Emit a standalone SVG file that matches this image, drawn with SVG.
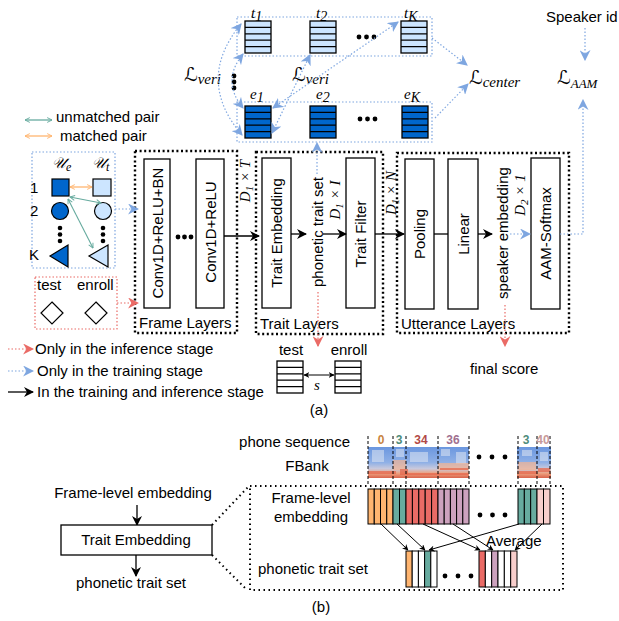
<svg xmlns="http://www.w3.org/2000/svg" width="619" height="621" viewBox="0 0 619 621">
<style>
text{font-family:"Liberation Sans",Arial,sans-serif;font-size:15px;fill:#000}
.m{font-family:"Liberation Serif","DejaVu Serif",serif;font-style:italic}
.L{font-family:"DejaVu Serif","DejaVu Sans",serif;font-size:19px}
.box{fill:#fff;stroke:#000;stroke-width:1.3}
.grp{fill:none;stroke:#000;stroke-width:2.4;stroke-dasharray:2 2.6}
.bd{fill:none;stroke:#7EA6E0;stroke-width:1.2;stroke-dasharray:1.5 2}
.rd{fill:none;stroke:#EA6B66;stroke-width:1.2;stroke-dasharray:1.5 2}
.blk{fill:none;stroke:#000;stroke-width:1.3}
.thin{fill:none;stroke:#000;stroke-width:1}
.dash{fill:none;stroke:#000;stroke-width:1;stroke-dasharray:3 2}
.dot{fill:none;stroke:#000;stroke-width:2;stroke-dasharray:1.5 3.5}
.sl{fill:#CCE5FF;stroke:#000;stroke-width:1.3}
.sd{fill:#0066CC;stroke:#000;stroke-width:1.3}
.sw{fill:#fff;stroke:#000;stroke-width:1.3}
.ln{stroke:#000;stroke-width:1.3}
.num{font-size:12px;font-weight:bold}
.or{fill:#FFB570}.gr{fill:#67AB9F}.re{fill:#EA6B66}.pu{fill:#CDA2BE}.pk{fill:#F8CECC}.wh{fill:#fff}
.bar rect{stroke:#000;stroke-width:1}
.lp{fill:#dfe6f2;opacity:0.55}
.hot{fill:#e5684d;opacity:0.75}
.warm{fill:#f2b493;opacity:0.7}
</style>
<defs>
<marker id="ab" viewBox="0 0 10 10" refX="9" refY="5" markerWidth="10" markerHeight="10" markerUnits="userSpaceOnUse" orient="auto-start-reverse"><path d="M0,0 L10,5 L0,10 L3,5z" fill="#000"/></marker>
<marker id="abs" viewBox="0 0 10 10" refX="9" refY="5" markerWidth="6" markerHeight="6" markerUnits="userSpaceOnUse" orient="auto-start-reverse"><path d="M0,0 L10,5 L0,10 L3,5z" fill="#000"/></marker>
<marker id="abl" viewBox="0 0 10 10" refX="9" refY="5" markerWidth="11" markerHeight="11" markerUnits="userSpaceOnUse" orient="auto-start-reverse"><path d="M0,0 L10,5 L0,10 L3,5z" fill="#7EA6E0"/></marker>
<marker id="ared" viewBox="0 0 10 10" refX="9" refY="5" markerWidth="11" markerHeight="11" markerUnits="userSpaceOnUse" orient="auto-start-reverse"><path d="M0,0 L10,5 L0,10 L3,5z" fill="#EA6B66"/></marker>
<marker id="agr" viewBox="0 0 10 10" refX="9" refY="5" markerWidth="6" markerHeight="6" markerUnits="userSpaceOnUse" orient="auto-start-reverse"><path d="M1,1 L9,5 L1,9" fill="none" stroke="#67AB9F" stroke-width="1.6"/></marker>
<marker id="aor" viewBox="0 0 10 10" refX="9" refY="5" markerWidth="6" markerHeight="6" markerUnits="userSpaceOnUse" orient="auto-start-reverse"><path d="M1,1 L9,5 L1,9" fill="none" stroke="#FFB570" stroke-width="1.6"/></marker>
<linearGradient id="spec" x1="0" y1="0" x2="0" y2="1">
<stop offset="0" stop-color="#6b97df"/><stop offset="0.5" stop-color="#8fb0e6"/><stop offset="0.7" stop-color="#c9c9dc"/><stop offset="0.85" stop-color="#eda07e"/><stop offset="1" stop-color="#d9634b"/>
</linearGradient>
</defs>

<!-- top: stacks -->
<g id="t-row">
<rect class="bd" x="237" y="17" width="195" height="39"/>
<g id="t1"><rect class="sl" x="245" y="21" width="26" height="32"/><path class="ln" d="M245,27.4H271M245,33.8H271M245,40.2H271M245,46.6H271"/></g>
<g id="t2"><rect class="sl" x="310" y="21" width="26" height="32"/><path class="ln" d="M310,27.4H336M310,33.8H336M310,40.2H336M310,46.6H336"/></g>
<g id="tK"><rect class="sl" x="401" y="21" width="26" height="32"/><path class="ln" d="M401,27.4H427M401,33.8H427M401,40.2H427M401,46.6H427"/></g>
<circle cx="359" cy="37" r="2.4"/><circle cx="366.5" cy="37" r="2.4"/><circle cx="374" cy="37" r="2.4"/>
<text class="m" x="251" y="18" font-size="22">t<tspan font-size="14" dy="3">1</tspan></text>
<text class="m" x="316" y="18" font-size="22">t<tspan font-size="14" dy="3">2</tspan></text>
<text class="m" x="404" y="18" font-size="22">t<tspan font-size="14" dy="3">K</tspan></text>
</g>
<g id="e-row">
<rect class="bd" x="237" y="102" width="195" height="40"/>
<g id="e1"><rect class="sd" x="245" y="106" width="26" height="32"/><path class="ln" d="M245,112.4H271M245,118.8H271M245,125.2H271M245,131.6H271"/></g>
<g id="e2"><rect class="sd" x="310" y="106" width="26" height="32"/><path class="ln" d="M310,112.4H336M310,118.8H336M310,125.2H336M310,131.6H336"/></g>
<g id="eK"><rect class="sd" x="402" y="106" width="26" height="32"/><path class="ln" d="M402,112.4H428M402,118.8H428M402,125.2H428M402,131.6H428"/></g>
<circle cx="360" cy="119" r="2.4"/><circle cx="367.5" cy="119" r="2.4"/><circle cx="375" cy="119" r="2.4"/>
<text class="m" x="250" y="99" font-size="22">e<tspan font-size="14" dy="3">1</tspan></text>
<text class="m" x="316" y="99" font-size="22">e<tspan font-size="14" dy="3">2</tspan></text>
<text class="m" x="404" y="99" font-size="22">e<tspan font-size="14" dy="3">K</tspan></text>
</g>
<circle cx="234" cy="76" r="2.4"/><circle cx="234" cy="82" r="2.4"/><circle cx="234" cy="88" r="2.4"/>
<g id="losses">
<text x="184" y="81"><tspan class="L">ℒ</tspan><tspan class="m" font-size="15" dy="3">veri</tspan></text>
<text x="292" y="81"><tspan class="L">ℒ</tspan><tspan class="m" font-size="15" dy="3">veri</tspan></text>
<text x="469" y="84"><tspan class="L">ℒ</tspan><tspan class="m" font-size="15" dy="3">center</tspan></text>
<text x="557" y="84"><tspan class="L">ℒ</tspan><tspan class="m" font-size="13" dy="4">AAM</tspan></text>
<text x="546" y="22">Speaker id</text>
</g>

<!-- left legend -->
<g id="pair-legend">
<path d="M25,120H52" stroke="#67AB9F" stroke-width="1.3" marker-start="url(#agr)" marker-end="url(#agr)"/>
<text x="56" y="122">unmatched pair</text>
<path d="M25,136H52" stroke="#FFB570" stroke-width="1.3" marker-start="url(#aor)" marker-end="url(#aor)"/>
<text x="60" y="141">matched pair</text>
</g>

<g id="speaker-sets">
<rect class="bd" x="32" y="152" width="83" height="116"/>
<text x="52" y="168" class="m" font-size="17">𝒰<tspan font-size="12" dy="3">e</tspan></text>
<text x="92" y="168" class="m" font-size="17">𝒰<tspan font-size="12" dy="3">t</tspan></text>
<text x="30" y="193">1</text><text x="30" y="216">2</text><text x="29" y="260">K</text>
<rect x="52" y="179" width="17" height="17" fill="#0066CC" stroke="#000" stroke-width="1.2"/>
<rect x="93" y="179" width="18" height="17" fill="#CCE5FF" stroke="#000" stroke-width="1.2"/>
<circle cx="60" cy="211" r="8.5" fill="#0066CC" stroke="#000" stroke-width="1.2"/>
<circle cx="103" cy="211" r="8.5" fill="#CCE5FF" stroke="#000" stroke-width="1.2"/>
<circle cx="60" cy="228" r="2.3"/><circle cx="60" cy="234.5" r="2.3"/><circle cx="60" cy="241" r="2.3"/>
<circle cx="103" cy="228" r="2.3"/><circle cx="103" cy="234.5" r="2.3"/><circle cx="103" cy="241" r="2.3"/>
<path d="M50,256L68,245V267z" fill="#0066CC" stroke="#000" stroke-width="1.2"/>
<path d="M89,256L108,245V267z" fill="#CCE5FF" stroke="#000" stroke-width="1.2"/>
<path d="M70,187H92" stroke="#FFB570" stroke-width="1.3" marker-start="url(#aor)" marker-end="url(#aor)"/>
<path d="M70,197L101,203" stroke="#67AB9F" stroke-width="1.1" marker-start="url(#agr)" marker-end="url(#agr)"/>
<path d="M68,199L93,248" stroke="#67AB9F" stroke-width="1.1" marker-start="url(#agr)" marker-end="url(#agr)"/>
</g>
<g id="test-enroll-in">
<rect class="rd" x="35" y="277" width="82" height="52"/>
<text x="37" y="290">test</text><text x="77" y="290">enroll</text>
<path d="M52,302L63,313L52,324L41,313z" fill="#fff" stroke="#000" stroke-width="1.2"/>
<path d="M96,302L107,313L96,324L85,313z" fill="#fff" stroke="#000" stroke-width="1.2"/>
</g>

<!-- Frame layers -->
<g id="frame-layers">
<rect class="grp" x="135" y="151" width="102" height="182"/>
<rect class="box" x="144" y="159" width="26" height="149"/>
<text transform="rotate(-90 157 233)" x="157" y="238.5" text-anchor="middle">Conv1D+ReLU+BN</text>
<rect class="box" x="196" y="159" width="28" height="149"/>
<text transform="rotate(-90 210 232)" x="210" y="237.5" text-anchor="middle">Conv1D+ReLU</text>
<circle cx="178" cy="237" r="2.4"/><circle cx="184.5" cy="237" r="2.4"/><circle cx="191" cy="237" r="2.4"/>
<text x="139" y="328">Frame Layers</text>
</g>
<g id="trait-layers">
<rect class="grp" x="256" y="152" width="127" height="182"/>
<rect class="box" x="262" y="158" width="29" height="150"/>
<text transform="rotate(-90 276.5 233)" x="276.5" y="238.5" text-anchor="middle">Trait Embedding</text>
<text transform="rotate(-90 317 232)" x="317" y="237.5" text-anchor="middle">phonetic trait set</text>
<rect class="box" x="346" y="158" width="29" height="150"/>
<text transform="rotate(-90 360.5 234)" x="360.5" y="239.5" text-anchor="middle">Trait Filter</text>
<text x="260" y="329">Trait Layers</text>
</g>
<g id="utterance-layers">
<rect class="grp" x="397" y="153" width="172" height="180"/>
<rect class="box" x="405" y="159" width="29" height="150"/>
<text transform="rotate(-90 419.5 234)" x="419.5" y="239.5" text-anchor="middle">Pooling</text>
<rect class="box" x="448" y="159" width="30" height="150"/>
<text transform="rotate(-90 463 234)" x="463" y="239.5" text-anchor="middle">Linear</text>
<text transform="rotate(-90 502 233)" x="502" y="238.5" text-anchor="middle">speaker embedding</text>
<rect class="box" x="531" y="158" width="29" height="151"/>
<text transform="rotate(-90 545.5 233.5)" x="545.5" y="239" text-anchor="middle">AAM-Softmax</text>
<text x="401" y="329">Utterance Layers</text>
</g>
<g id="dims">
<text class="m" font-size="16" transform="rotate(-90 245 181)" x="245" y="186" text-anchor="middle">D<tspan font-size="11" dy="3">1</tspan><tspan dy="-3"> × T</tspan></text>
<text class="m" font-size="16" transform="rotate(-90 335 200)" x="335" y="205" text-anchor="middle">D<tspan font-size="11" dy="3">1</tspan><tspan dy="-3"> × I</tspan></text>
<text class="m" font-size="16" transform="rotate(-90 391 193)" x="391" y="198" text-anchor="middle">D<tspan font-size="11" dy="3">1</tspan><tspan dy="-3"> × N</tspan></text>
<text class="m" font-size="16" transform="rotate(-90 520 195)" x="520" y="200" text-anchor="middle">D<tspan font-size="11" dy="3">2</tspan><tspan dy="-3"> × 1</tspan></text>
</g>

<!-- bottom of (a) -->
<g id="score">
<text x="291" y="355" text-anchor="middle">test</text>
<text x="349" y="355" text-anchor="middle">enroll</text>
<rect class="sw" x="277" y="361" width="26" height="32"/><path class="ln" d="M277,367.4H303M277,373.8H303M277,380.2H303M277,386.6H303"/>
<rect class="sw" x="335" y="361" width="26" height="32"/><path class="ln" d="M335,367.4H361M335,373.8H361M335,380.2H361M335,386.6H361"/>
<text class="m" x="314" y="390" font-size="17">s</text>
<text x="470" y="374">final score</text>
<text x="319" y="415" text-anchor="middle">(a)</text>
</g>
<g id="stage-legend">
<path class="rd" d="M8,349H33" marker-end="url(#ared)"/>
<text x="35" y="354">Only in the inference stage</text>
<path class="bd" d="M8,371H33" marker-end="url(#abl)"/>
<text x="37" y="376">Only in the training stage</text>
<path class="blk" d="M8,392H33" marker-end="url(#ab)"/>
<text x="37" y="397">In the training and inference stage</text>
</g>

<!-- connectors (a) -->
<g id="connectors">
<path class="bd" d="M241,24Q195,80 242,135" marker-start="url(#abl)" marker-end="url(#abl)"/>
<path class="bd" d="M243,54Q221,81 243,108" marker-start="url(#abl)" marker-end="url(#abl)"/>
<path class="bd" d="M273,108L398,22" marker-start="url(#abl)" marker-end="url(#abl)"/>
<path class="bd" d="M310,55L272,133" marker-start="url(#abl)" marker-end="url(#abl)"/>
<path class="bd" d="M432,38L467,65" marker-end="url(#abl)"/>
<path class="bd" d="M435,118L468,84" marker-end="url(#abl)"/>
<path class="bd" d="M585,28V60" marker-end="url(#abl)"/>
<path class="bd" d="M560,234H583V100" marker-end="url(#abl)"/>
<path class="bd" d="M317,174V143" marker-end="url(#abl)"/>
<path class="bd" d="M115,209H138" marker-end="url(#abl)"/>
<path class="rd" d="M117,303H138" marker-end="url(#ared)"/>
<path class="blk" d="M224,236H259" marker-end="url(#ab)"/>
<path class="blk" d="M291,234H306" marker-end="url(#ab)"/>
<path class="blk" d="M323,234H346" marker-end="url(#ab)"/>
<path class="blk" d="M375,234H404" marker-end="url(#ab)"/>
<path class="blk" d="M434,234H448"/>
<path class="blk" d="M478,234H492" marker-end="url(#ab)"/>
<path class="bd" d="M510,234H530" marker-end="url(#abl)"/>
<path class="rd" d="M318,292V346" marker-end="url(#ared)"/>
<path class="rd" d="M505,305V346" marker-end="url(#ared)"/>
<path class="thin" d="M304,375H334" marker-start="url(#abs)" marker-end="url(#abs)"/>
</g>

<!-- (b) -->
<g id="b-left">
<text x="133" y="498" text-anchor="middle">Frame-level embedding</text>
<path class="blk" d="M137,505V525" marker-end="url(#ab)"/>
<rect class="box" x="61" y="525" width="151" height="30"/>
<text x="136" y="545" text-anchor="middle">Trait Embedding</text>
<path class="blk" d="M136,555V576" marker-end="url(#ab)"/>
<text x="131" y="588" text-anchor="middle">phonetic trait set</text>
<path class="dot" d="M212,525L249,486M212,555L247,590"/>
</g>
<g id="b-detail">
<rect class="dot" x="250" y="486" width="313" height="104"/>
<text x="350" y="447" text-anchor="end">phone sequence</text>
<text x="307" y="471" text-anchor="middle">FBank</text>
<text x="311" y="503" text-anchor="middle">Frame-level</text>
<text x="311" y="522" text-anchor="middle">embedding</text>
<text x="313" y="574" text-anchor="middle">phonetic trait set</text>
<g id="fbank">
<rect x="368" y="447" width="101" height="31" fill="url(#spec)"/>
<rect x="517" y="447" width="34" height="31" fill="url(#spec)"/>
<rect class="lp" x="372" y="450" width="12" height="12"/><rect class="lp" x="396" y="449" width="8" height="8"/><rect class="lp" x="410" y="452" width="18" height="10"/><rect class="lp" x="441" y="449" width="9" height="7"/><rect class="lp" x="456" y="452" width="10" height="12"/><rect class="lp" x="522" y="450" width="10" height="6"/><rect class="lp" x="540" y="452" width="8" height="9"/>
<rect class="warm" x="393" y="460" width="13" height="10"/><rect class="warm" x="438" y="463" width="31" height="7"/><rect class="warm" x="518" y="462" width="18" height="8"/>
<rect class="hot" x="368" y="471" width="28" height="3"/><rect class="hot" x="400" y="469" width="8" height="6"/><rect class="hot" x="406" y="473" width="62" height="2"/><rect class="hot" x="440" y="468" width="28" height="2"/><rect class="hot" x="519" y="471" width="18" height="3"/><rect class="hot" x="538" y="468" width="12" height="4"/>
</g>
<path class="dash" d="M368,436V486M393,436V486M406,436V486M438,436V486M469,436V486M518,436V486M537,436V486M550,436V486"/>
<text class="num" x="381" y="444" text-anchor="middle" style="fill:#C8843F">0</text>
<text class="num" x="399" y="444" text-anchor="middle" style="fill:#4E8C7B">3</text>
<text class="num" x="421" y="444" text-anchor="middle" style="fill:#B24A46">34</text>
<text class="num" x="453" y="444" text-anchor="middle" style="fill:#A0708F">36</text>
<text class="num" x="526" y="444" text-anchor="middle" style="fill:#4E8C7B">3</text>
<text class="num" x="543" y="444" text-anchor="middle" style="fill:#C79A9A">40</text>
<circle cx="479" cy="457" r="2.4"/><circle cx="492" cy="457" r="2.4"/><circle cx="505" cy="457" r="2.4"/>
<g class="bar">
<rect class="or" x="368" y="489" width="6.25" height="35"/><rect class="or" x="374.25" y="489" width="6.25" height="35"/><rect class="or" x="380.5" y="489" width="6.25" height="35"/><rect class="or" x="386.75" y="489" width="6.25" height="35"/>
<rect class="gr" x="393" y="489" width="6.5" height="35"/><rect class="gr" x="399.5" y="489" width="6.5" height="35"/>
<rect class="re" x="406" y="489" width="6.4" height="35"/><rect class="re" x="412.4" y="489" width="6.4" height="35"/><rect class="re" x="418.8" y="489" width="6.4" height="35"/><rect class="re" x="425.2" y="489" width="6.4" height="35"/><rect class="re" x="431.6" y="489" width="6.4" height="35"/>
<rect class="pu" x="438" y="489" width="6.2" height="35"/><rect class="pu" x="444.2" y="489" width="6.2" height="35"/><rect class="pu" x="450.4" y="489" width="6.2" height="35"/><rect class="pu" x="456.6" y="489" width="6.2" height="35"/><rect class="pu" x="462.8" y="489" width="6.2" height="35"/>
<rect class="gr" x="518" y="489" width="6.33" height="35"/><rect class="gr" x="524.33" y="489" width="6.33" height="35"/><rect class="gr" x="530.67" y="489" width="6.33" height="35"/>
<rect class="pk" x="537" y="489" width="6.5" height="35"/><rect class="pk" x="543.5" y="489" width="6.5" height="35"/>
<rect class="or" x="406" y="551" width="6.2" height="36"/><rect class="wh" x="412.2" y="551" width="6.2" height="36"/><rect class="wh" x="418.4" y="551" width="6.2" height="36"/><rect class="gr" x="424.6" y="551" width="6.2" height="36"/><rect class="wh" x="430.8" y="551" width="6.2" height="36"/>
<rect class="re" x="479" y="551" width="6.33" height="36"/><rect class="wh" x="485.33" y="551" width="6.33" height="36"/><rect class="pu" x="491.67" y="551" width="6.33" height="36"/><rect class="wh" x="498" y="551" width="6.33" height="36"/><rect class="wh" x="504.33" y="551" width="6.33" height="36"/><rect class="pk" x="510.67" y="551" width="6.33" height="36"/>
</g>
<circle cx="480" cy="515" r="2.4"/><circle cx="492.5" cy="515" r="2.4"/><circle cx="505" cy="515" r="2.4"/>
<circle cx="445" cy="576" r="2.4"/><circle cx="458" cy="576" r="2.4"/><circle cx="471" cy="576" r="2.4"/>
<text x="486" y="546">Average</text>
<g id="b-connectors">
<path class="thin" d="M381,524L408,550" marker-end="url(#abs)"/>
<path class="thin" d="M397,524L425,550" marker-end="url(#abs)"/>
<path class="thin" d="M423,524L480,550" marker-end="url(#abs)"/>
<path class="thin" d="M453,524L493,550" marker-end="url(#abs)"/>
<path class="thin" d="M519,524L429,550" marker-end="url(#abs)"/>
<path class="thin" d="M542,524L515,550" marker-end="url(#abs)"/>
</g>
</g>
<text x="321" y="612" text-anchor="middle">(b)</text>
</svg>
